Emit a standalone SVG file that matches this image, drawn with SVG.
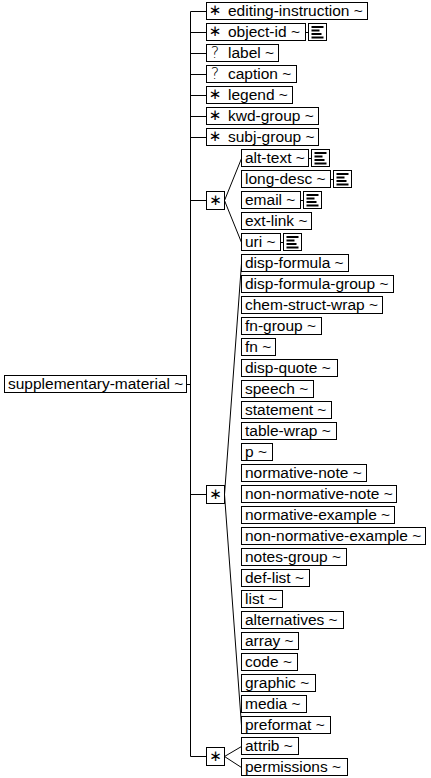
<svg xmlns="http://www.w3.org/2000/svg" width="431" height="778" viewBox="0 0 431 778">
<style>
.b{fill:#fff;stroke:#000;stroke-width:1}
.t{font-family:"Liberation Sans",Arial,sans-serif;font-size:15.5px;fill:#000}
.s{font-family:"DejaVu Sans",sans-serif;font-size:15px;fill:#000;text-anchor:middle}
.q{font-family:"DejaVu Sans",sans-serif;font-weight:200;font-size:16px;fill:#000;text-anchor:middle}
.l{stroke:#000;stroke-width:1;fill:none}
</style>
<defs>
<g id="doc">
<rect class="b" x="0" y="0.5" width="18" height="17"/>
<rect x="3" y="3" width="12" height="2" fill="#000"/>
<rect x="3" y="6.5" width="8" height="2" fill="#000"/>
<rect x="3" y="10" width="10" height="2" fill="#000"/>
<rect x="3" y="13.5" width="12" height="2" fill="#000"/>
</g>
</defs>
<g id="connectors">
<path class="l" d="M186.5,384.5H190.5M190.5,11.5V756.5"/>
<path class="l" d="M190.5,11.5H206.5M190.5,32.5H206.5M190.5,53.5H206.5M190.5,74.5H206.5M190.5,95.5H206.5M190.5,116.5H206.5M190.5,137.5H206.5"/>
<path class="l" d="M190.5,200.5H206.5M190.5,494.5H206.5M190.5,756.5H206.5"/>
<path class="l" d="M241.5,158.5L224.5,200.5L241.5,242.5"/>
<path class="l" d="M241.5,263.5L224.5,494.5L241.5,725.5"/>
<path class="l" d="M241.5,746.5L224.5,756.5L241.5,767.5"/>
<path class="l" d="M305.5,32.5H308.5M308.5,158.5H311.5M330.5,179.5H333.5M300.5,200.5H303.5M280.5,242.5H283.5"/>
</g>
<g id="root"><rect class="b" x="4.5" y="375.5" width="182" height="17"/><text class="t" x="8" y="389">supplementary-material ~</text></g>
<g id="g1"><rect class="b" x="206.5" y="191.5" width="18" height="18"/><text class="s" x="215.5" y="204.5">∗</text></g>
<g id="g2"><rect class="b" x="206.5" y="485.5" width="18" height="18"/><text class="s" x="215.5" y="498.5">∗</text></g>
<g id="g3"><rect class="b" x="206.5" y="747.5" width="18" height="18"/><text class="s" x="215.5" y="760.5">∗</text></g>
<g id="n0"><rect class="b" x="206.5" y="2.5" width="161" height="17"/><text class="s" x="215" y="15">∗</text><text class="t" x="228" y="15.5">editing-instruction ~</text></g>
<g id="n1"><rect class="b" x="206.5" y="23.5" width="99" height="17"/><text class="s" x="215" y="36">∗</text><text class="t" x="228" y="36.5">object-id ~</text><use href="#doc" x="308.5" y="23"/></g>
<g id="n2"><rect class="b" x="206.5" y="44.5" width="72" height="17"/><text class="q" x="215" y="58">?</text><text class="t" x="228" y="57.5">label ~</text></g>
<g id="n3"><rect class="b" x="206.5" y="65.5" width="90" height="17"/><text class="q" x="215" y="79">?</text><text class="t" x="228" y="78.5">caption ~</text></g>
<g id="n4"><rect class="b" x="206.5" y="86.5" width="86" height="17"/><text class="s" x="215" y="99">∗</text><text class="t" x="228" y="99.5">legend ~</text></g>
<g id="n5"><rect class="b" x="206.5" y="107.5" width="112" height="17"/><text class="s" x="215" y="120">∗</text><text class="t" x="228" y="120.5">kwd-group ~</text></g>
<g id="n6"><rect class="b" x="206.5" y="128.5" width="112" height="17"/><text class="s" x="215" y="141">∗</text><text class="t" x="228" y="141.5">subj-group ~</text></g>
<g id="n7"><rect class="b" x="241.5" y="149.5" width="67" height="17"/><text class="t" x="245" y="162.5">alt-text ~</text><use href="#doc" x="311.5" y="149"/></g>
<g id="n8"><rect class="b" x="241.5" y="170.5" width="89" height="17"/><text class="t" x="245" y="183.5">long-desc ~</text><use href="#doc" x="333.5" y="170"/></g>
<g id="n9"><rect class="b" x="241.5" y="191.5" width="59" height="17"/><text class="t" x="245" y="204.5">email ~</text><use href="#doc" x="303.5" y="191"/></g>
<g id="n10"><rect class="b" x="241.5" y="212.5" width="70" height="17"/><text class="t" x="245" y="225.5">ext-link ~</text></g>
<g id="n11"><rect class="b" x="241.5" y="233.5" width="39" height="17"/><text class="t" x="245" y="246.5">uri ~</text><use href="#doc" x="283.5" y="233"/></g>
<g id="n12"><rect class="b" x="241.5" y="254.5" width="107" height="17"/><text class="t" x="245" y="267.5">disp-formula ~</text></g>
<g id="n13"><rect class="b" x="241.5" y="275.5" width="152" height="17"/><text class="t" x="245" y="288.5">disp-formula-group ~</text></g>
<g id="n14"><rect class="b" x="241.5" y="296.5" width="141" height="17"/><text class="t" x="245" y="309.5">chem-struct-wrap ~</text></g>
<g id="n15"><rect class="b" x="241.5" y="317.5" width="80" height="17"/><text class="t" x="245" y="330.5">fn-group ~</text></g>
<g id="n16"><rect class="b" x="241.5" y="338.5" width="34" height="17"/><text class="t" x="245" y="351.5">fn ~</text></g>
<g id="n17"><rect class="b" x="241.5" y="359.5" width="96" height="17"/><text class="t" x="245" y="372.5">disp-quote ~</text></g>
<g id="n18"><rect class="b" x="241.5" y="380.5" width="72" height="17"/><text class="t" x="245" y="393.5">speech ~</text></g>
<g id="n19"><rect class="b" x="241.5" y="401.5" width="90" height="17"/><text class="t" x="245" y="414.5">statement ~</text></g>
<g id="n20"><rect class="b" x="241.5" y="422.5" width="95" height="17"/><text class="t" x="245" y="435.5">table-wrap ~</text></g>
<g id="n21"><rect class="b" x="241.5" y="443.5" width="31" height="17"/><text class="t" x="245" y="456.5">p ~</text></g>
<g id="n22"><rect class="b" x="241.5" y="464.5" width="125" height="17"/><text class="t" x="245" y="477.5">normative-note ~</text></g>
<g id="n23"><rect class="b" x="241.5" y="485.5" width="155" height="17"/><text class="t" x="245" y="498.5">non-normative-note ~</text></g>
<g id="n24"><rect class="b" x="241.5" y="506.5" width="153" height="17"/><text class="t" x="245" y="519.5">normative-example ~</text></g>
<g id="n25"><rect class="b" x="241.5" y="527.5" width="184" height="17"/><text class="t" x="245" y="540.5">non-normative-example ~</text></g>
<g id="n26"><rect class="b" x="241.5" y="548.5" width="105" height="17"/><text class="t" x="245" y="561.5">notes-group ~</text></g>
<g id="n27"><rect class="b" x="241.5" y="569.5" width="68" height="17"/><text class="t" x="245" y="582.5">def-list ~</text></g>
<g id="n28"><rect class="b" x="241.5" y="590.5" width="41" height="17"/><text class="t" x="245" y="603.5">list ~</text></g>
<g id="n29"><rect class="b" x="241.5" y="611.5" width="102" height="17"/><text class="t" x="245" y="624.5">alternatives ~</text></g>
<g id="n30"><rect class="b" x="241.5" y="632.5" width="57" height="17"/><text class="t" x="245" y="645.5">array ~</text></g>
<g id="n31"><rect class="b" x="241.5" y="653.5" width="56" height="17"/><text class="t" x="245" y="666.5">code ~</text></g>
<g id="n32"><rect class="b" x="241.5" y="674.5" width="74" height="17"/><text class="t" x="245" y="687.5">graphic ~</text></g>
<g id="n33"><rect class="b" x="241.5" y="695.5" width="65" height="17"/><text class="t" x="245" y="708.5">media ~</text></g>
<g id="n34"><rect class="b" x="241.5" y="716.5" width="89" height="17"/><text class="t" x="245" y="729.5">preformat ~</text></g>
<g id="n35"><rect class="b" x="241.5" y="737.5" width="57" height="17"/><text class="t" x="245" y="750.5">attrib ~</text></g>
<g id="n36"><rect class="b" x="241.5" y="758.5" width="106" height="17"/><text class="t" x="245" y="771.5">permissions ~</text></g>
</svg>
